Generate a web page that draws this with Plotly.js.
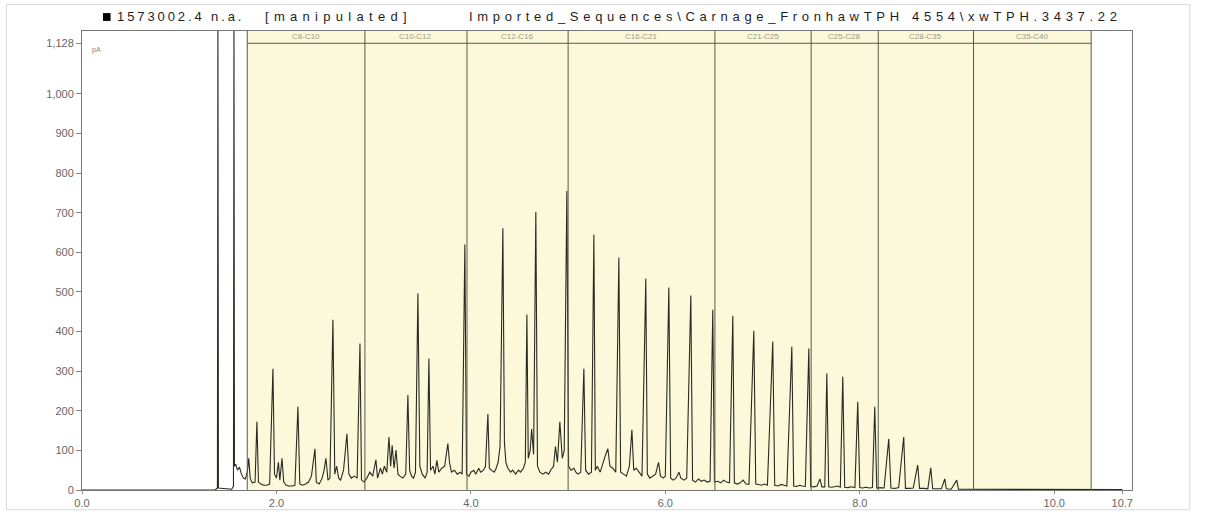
<!DOCTYPE html>
<html>
<head>
<meta charset="utf-8">
<script src="https://cdn.plot.ly/plotly-3.0.1.min.js"></script>
<style>
  html, body { margin: 0; padding: 0; background: #ffffff; }
  #chart { width: 1211px; height: 519px; }
</style>
</head>
<body>
<div id="chart"></div>
<script>
// Retention time (min) and signal values
const signalTime = [
  0.00, 1.37, 1.393, 1.398, 1.403, 1.54, 1.558, 1.563, 1.568, 1.58, 1.60, 1.62, 1.64, 1.66, 1.68, 1.70, 1.715, 1.73, 1.75, 1.78,
  1.799, 1.815, 1.84, 1.87, 1.90, 1.93, 1.964, 1.98, 2.00, 2.02, 2.035, 2.057, 2.075, 2.10, 2.13, 2.16, 2.19, 2.221, 2.24, 2.27,
  2.30, 2.33, 2.36, 2.396, 2.41, 2.44, 2.47, 2.49, 2.509, 2.53, 2.55, 2.581, 2.60, 2.62, 2.64, 2.66, 2.69, 2.725, 2.745, 2.77,
  2.80, 2.83, 2.859, 2.875, 2.90, 2.93, 2.96, 2.99, 3.023, 3.04, 3.07, 3.09, 3.11, 3.135, 3.157, 3.175, 3.19, 3.21, 3.23, 3.25,
  3.27, 3.30, 3.33, 3.352, 3.37, 3.39, 3.41, 3.43, 3.455, 3.475, 3.50, 3.53, 3.55, 3.568, 3.585, 3.61, 3.63, 3.65, 3.67, 3.70,
  3.73, 3.763, 3.78, 3.80, 3.83, 3.86, 3.89, 3.91, 3.938, 3.955, 3.98, 4.00, 4.03, 4.05, 4.08, 4.10, 4.13, 4.15, 4.175, 4.19,
  4.21, 4.24, 4.26, 4.28, 4.30, 4.329, 4.345, 4.36, 4.38, 4.41, 4.43, 4.46, 4.49, 4.51, 4.54, 4.56, 4.576, 4.59, 4.61, 4.625,
  4.645, 4.668, 4.685, 4.71, 4.74, 4.77, 4.80, 4.82, 4.85, 4.87, 4.89, 4.915, 4.94, 4.96, 4.987, 5.005, 5.03, 5.06, 5.08, 5.10,
  5.13, 5.162, 5.18, 5.21, 5.24, 5.265, 5.28, 5.30, 5.33, 5.36, 5.38, 5.409, 5.43, 5.46, 5.49, 5.522, 5.54, 5.57, 5.60, 5.63,
  5.656, 5.675, 5.70, 5.73, 5.76, 5.799, 5.815, 5.84, 5.87, 5.90, 5.93, 5.95, 5.98, 6.00, 6.036, 6.055, 6.08, 6.11, 6.14, 6.16,
  6.19, 6.22, 6.262, 6.28, 6.31, 6.34, 6.37, 6.40, 6.43, 6.46, 6.488, 6.505, 6.54, 6.57, 6.60, 6.63, 6.66, 6.694, 6.71, 6.74,
  6.77, 6.80, 6.83, 6.86, 6.91, 6.93, 6.96, 6.99, 7.02, 7.05, 7.105, 7.125, 7.16, 7.19, 7.22, 7.25, 7.301, 7.32, 7.35, 7.38,
  7.41, 7.44, 7.476, 7.495, 7.53, 7.56, 7.59, 7.61, 7.64, 7.661, 7.68, 7.71, 7.74, 7.77, 7.80, 7.825, 7.845, 7.88, 7.91, 7.95,
  7.979, 8.00, 8.03, 8.06, 8.10, 8.13, 8.154, 8.175, 8.21, 8.25, 8.298, 8.32, 8.36, 8.40, 8.452, 8.47, 8.51, 8.55, 8.596, 8.615,
  8.66, 8.70, 8.73, 8.75, 8.80, 8.84, 8.874, 8.89, 8.94, 8.997, 9.015, 9.10, 9.50, 10.00, 10.40, 10.70
];
const signalValue = [
  0, 0, 5, 1200, 5, 2, 10, 1200, 60, 65, 50, 58, 40, 30, 28, 45, 80, 30, 18, 20,
  172, 20, 15, 12, 12, 15, 306, 40, 30, 70, 25, 80, 20, 12, 10, 10, 12, 210, 15, 12,
  15, 20, 35, 104, 20, 15, 30, 50, 80, 25, 30, 430, 40, 60, 30, 25, 50, 142, 40, 30,
  35, 30, 370, 25, 20, 30, 45, 35, 76, 30, 55, 40, 60, 45, 134, 60, 113, 55, 101, 40,
  35, 30, 40, 240, 50, 35, 30, 45, 496, 60, 40, 30, 45, 332, 50, 60, 40, 75, 45, 55,
  60, 117, 70, 45, 50, 40, 45, 40, 620, 40, 35, 45, 50, 40, 55, 45, 50, 60, 192, 55,
  50, 45, 55, 70, 110, 661, 120, 70, 55, 45, 50, 40, 50, 45, 55, 70, 443, 80, 100, 154,
  90, 702, 60, 45, 40, 45, 40, 50, 60, 110, 70, 172, 80, 100, 755, 60, 50, 55, 45, 40,
  45, 306, 50, 40, 45, 645, 50, 60, 45, 70, 85, 104, 60, 55, 45, 587, 45, 40, 35, 60,
  152, 50, 55, 45, 35, 534, 40, 30, 35, 40, 70, 35, 30, 35, 511, 30, 25, 30, 45, 30,
  25, 30, 491, 25, 20, 28, 22, 25, 20, 22, 455, 20, 22, 18, 25, 20, 18, 440, 18, 15,
  18, 25, 15, 14, 402, 15, 14, 12, 15, 12, 375, 12, 10, 14, 12, 10, 362, 10, 9, 12,
  10, 9, 357, 9, 8, 10, 28, 8, 8, 294, 8, 7, 8, 10, 7, 286, 7, 6, 8, 6,
  223, 6, 5, 7, 5, 6, 210, 5, 6, 5, 129, 5, 4, 6, 134, 4, 4, 5, 63, 4,
  4, 3, 56, 3, 3, 3, 28, 3, 2, 25, 2, 2, 2, 2, 1.5, 1
];

// Integration windows (carbon bands) and their labels
const bandEdges = [1.70, 2.91, 3.96, 5.00, 6.51, 7.50, 8.19, 9.17, 10.38];
const bandLabels = ["C8-C10", "C10-C12", "C12-C16", "C16-C21", "C21-C25", "C25-C28", "C28-C35", "C35-C40"];

// Axis ticks
const xTickVals = [0, 2, 4, 6, 8, 10, 10.7];
const xTickText = ["0.0", "2.0", "4.0", "6.0", "8.0", "10.0", "10.7"];
const yTickVals = [0, 100, 200, 300, 400, 500, 600, 700, 800, 900, 1000, 1128];
const yTickText = ["0", "100", "200", "300", "400", "500", "600", "700", "800", "900", "1,000", "1,128"];

const titleLeft = "1573002.4 n.a.";
const titleMid = "[manipulated]";
const titleRight = "Imported_Sequences\\Carnage_FronhawTPH 4554\\xwTPH.3437.22";

const Y_TOP = 1159;
const X_MAX = 10.8;
const HEADER_Y = 1128;

const shapes = [];
// yellow band background
shapes.push({type: "rect", xref: "x", yref: "y", x0: bandEdges[0], x1: bandEdges[bandEdges.length - 1],
  y0: 0, y1: Y_TOP, fillcolor: "#fbf9d9", line: {width: 0}, layer: "below"});
// band dividers
bandEdges.forEach(e => shapes.push({type: "line", xref: "x", yref: "y", x0: e, x1: e, y0: 0, y1: Y_TOP,
  line: {color: "#5a5a4a", width: 1}, layer: "above"}));
// header separator
shapes.push({type: "line", xref: "x", yref: "y", x0: bandEdges[0], x1: bandEdges[bandEdges.length - 1],
  y0: HEADER_Y, y1: HEADER_Y, line: {color: "#5a5a4a", width: 1}});
// outer frame
shapes.push({type: "rect", xref: "paper", yref: "paper", x0: -0.072, x1: 1.055, y0: -0.043, y1: 1.058,
  line: {color: "#d8d8d8", width: 1}, fillcolor: "rgba(0,0,0,0)", layer: "below"});
// legend square
shapes.push({type: "rect", xref: "paper", yref: "paper", x0: 0.0200, x1: 0.0272, y0: 1.022, y1: 1.039,
  line: {width: 0}, fillcolor: "#000000"});

const annotations = [];
for (let i = 0; i < bandLabels.length; i++) {
  annotations.push({xref: "x", yref: "y", x: (bandEdges[i] + bandEdges[i + 1]) / 2, y: 1144,
    text: bandLabels[i], showarrow: false, font: {family: "Liberation Sans", size: 8, color: "#9a9a8a"},
    xanchor: "center", yanchor: "middle"});
}
const titleFont = {family: "Liberation Sans", size: 13, color: "#1e1e1e"};
annotations.push({xref: "paper", yref: "paper", x: 0.0310, y: 1.031, text: titleLeft, showarrow: false,
  xanchor: "left", yanchor: "middle", align: "left", font: titleFont});
annotations.push({xref: "paper", yref: "paper", x: 0.172, y: 1.031, text: titleMid, showarrow: false,
  xanchor: "left", yanchor: "middle", align: "left", font: titleFont});
annotations.push({xref: "paper", yref: "paper", x: 0.367, y: 1.031, text: titleRight, showarrow: false,
  xanchor: "left", yanchor: "middle", align: "left", font: titleFont});
annotations.push({xref: "paper", yref: "y", x: 0.008, y: 1110, text: "pA", showarrow: false,
  xanchor: "left", yanchor: "middle", font: {family: "Liberation Sans", size: 7, color: "#888"}});

const trace = {
  type: "scatter", mode: "lines", x: signalTime, y: signalValue,
  line: {color: "#2a2a22", width: 1.1}, hoverinfo: "skip"
};

const layout = {
  width: 1211, height: 519,
  margin: {l: 82, r: 79, t: 31, b: 29},
  paper_bgcolor: "#ffffff", plot_bgcolor: "#ffffff",
  showlegend: false,
  xaxis: {
    range: [0, X_MAX], tickvals: xTickVals, ticktext: xTickText,
    showgrid: false, zeroline: false, showline: true, mirror: true, linecolor: "#777", linewidth: 1,
    ticks: "outside", ticklen: 3, tickcolor: "#888",
    tickfont: {family: "Liberation Sans", size: 11, color: "#666"}
  },
  yaxis: {
    range: [0, Y_TOP], tickvals: yTickVals, ticktext: yTickText,
    showgrid: false, zeroline: false, showline: true, mirror: true, linecolor: "#777", linewidth: 1,
    ticks: "outside", ticklen: 5, tickcolor: "#888",
    tickfont: {family: "Liberation Sans", size: 11, color: "#666"}
  },
  shapes: shapes,
  annotations: annotations
};

// Letter spacing to match the wide title lettering of the original export
const titleSpacing = {};
titleSpacing[titleLeft] = "2.9px";
titleSpacing[titleMid] = "5.3px";
titleSpacing[titleRight] = "4.7px";

Plotly.newPlot("chart", [trace], layout, {displayModeBar: false, staticPlot: true}).then(gd => {
  gd.querySelectorAll("text.annotation-text").forEach(t => {
    const sp = titleSpacing[t.textContent];
    if (sp) {
      const bb = t.getBBox();
      t.setAttribute("text-anchor", "start");
      t.setAttribute("x", bb.x);
      t.setAttribute("letter-spacing", sp);
    }
  });
});
</script>
</body>
</html>
